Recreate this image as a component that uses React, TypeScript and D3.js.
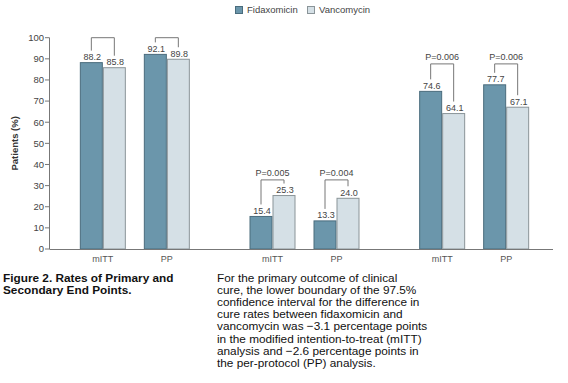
import React from "react";
import * as d3 from "d3";

const groups = ["Clinical cure", "Recurrence", "Sustained response"];
const analyses = ["mITT", "PP"];
const seriesNames = ["Fidaxomicin", "Vancomycin"];
const fidaxomicin = [88.2, 92.1, 15.4, 13.3, 74.6, 77.7];
const vancomycin = [85.8, 89.8, 25.3, 24.0, 64.1, 67.1];
const pLabels = ["", "", "P=0.005", "P=0.004", "P=0.006", "P=0.006"];
const bracketLevels = [100, 100, 32.7, 32.7, 87.6, 87.6];
const yTicks = [0, 10, 20, 30, 40, 50, 60, 70, 80, 90, 100];
const captionLines = ["Figure 2. Rates of Primary and", "Secondary End Points."];
const noteLines = [
  "For the primary outcome of clinical",
  "cure, the lower boundary of the 97.5%",
  "confidence interval for the difference in",
  "cure rates between fidaxomicin and",
  "vancomycin was \u22123.1 percentage points",
  "in the modified intention-to-treat (mITT)",
  "analysis and \u22122.6 percentage points in",
  "the per-protocol (PP) analysis.",
];

const W = 568;
const H = 383;
const FONT = "'Liberation Sans', Arial, sans-serif";
const fills = ["#6b96ab", "#d5e0e6"];
const strokes = ["#4a6c7d", "#8a9498"];

export default function App() {
  const y = d3.scaleLinear().domain([0, 100]).range([249, 37.7]);
  const xGroup = d3.scaleBand<number>().domain(d3.range(groups.length)).range([50, 559]).padding(0);
  const xAnalysis = d3.scaleBand<string>().domain(analyses).range([-64, 64]).padding(0);
  const xSeries = d3.scaleBand<string>().domain(seriesNames).range([-23, 23]).padding(0);
  const fmt = d3.format(".1f");

  const cats = groups.flatMap((g, gi) =>
    analyses.map((a, ai) => {
      const idx = gi * analyses.length + ai;
      const center = (xGroup(gi) as number) + xGroup.bandwidth() / 2 + (xAnalysis(a) as number) + xAnalysis.bandwidth() / 2;
      return { idx, a, center, vals: [fidaxomicin[idx], vancomycin[idx]] };
    })
  );

  return (
    <svg width={W} height={H} style={{ position: "absolute", left: 0, top: 0, background: "#fff" }}>
      {/* legend */}
      {seriesNames.map((s, i) => {
        const lx = i === 0 ? 235.5 : 307.5;
        return (
          <g key={s}>
            <rect x={lx} y={6.5} width={7} height={7} fill={fills[i]} stroke={strokes[i]} strokeWidth={1} />
            <text x={lx + 11.5} y={13} fontFamily={FONT} fontSize={9.5} fill="#444">{s}</text>
          </g>
        );
      })}

      {/* y axis */}
      <line x1={49.5} x2={49.5} y1={y(100)} y2={y(0)} stroke="#777" strokeWidth={1} />
      {yTicks.map((t) => (
        <g key={t}>
          <line x1={45} x2={49.5} y1={y(t)} y2={y(t)} stroke="#777" strokeWidth={1} />
          <text x={44} y={y(t) + 3.3} textAnchor="end" fontFamily={FONT} fontSize={9.5} fill="#444">{t}</text>
        </g>
      ))}
      <text
        transform={`translate(18,${(y(0) + y(100)) / 2}) rotate(-90)`}
        textAnchor="middle"
        fontFamily={FONT}
        fontSize={9.5}
        fontWeight="bold"
        fill="#333"
      >
        Patients (%)
      </text>

      {/* bars */}
      {cats.map((c) => (
        <g key={c.idx}>
          {c.vals.map((v, si) => {
            const x0 = c.center + (xSeries(seriesNames[si]) as number);
            return (
              <g key={si}>
                <rect x={x0 + 0.5} y={y(v)} width={xSeries.bandwidth() - 1} height={y(0) - y(v)} fill={fills[si]} stroke={strokes[si]} strokeWidth={1} />
                <text x={x0 + xSeries.bandwidth() / 2 + 1} y={y(v) - 2.5} textAnchor="middle" fontFamily={FONT} fontSize={9} fill="#444">
                  {fmt(v)}
                </text>
              </g>
            );
          })}
          {(() => {
            const xl = c.center + (xSeries(seriesNames[0]) as number) + xSeries.bandwidth() / 2;
            const xr = c.center + (xSeries(seriesNames[1]) as number) + xSeries.bandwidth() / 2;
            const top = y(bracketLevels[c.idx]);
            const yl = y(c.vals[0]) - 12;
            const yr = y(c.vals[1]) - 12;
            return (
              <g>
                <path d={`M${xl},${yl}V${top}H${xr}V${yr}`} fill="none" stroke="#777" strokeWidth={1} />
                {pLabels[c.idx] && (
                  <text x={(xl + xr) / 2} y={top - 4} textAnchor="middle" fontFamily={FONT} fontSize={9} fill="#444">
                    {pLabels[c.idx]}
                  </text>
                )}
              </g>
            );
          })()}
          <text x={c.center} y={262} textAnchor="middle" fontFamily={FONT} fontSize={9} fill="#555">{c.a}</text>
        </g>
      ))}

      {/* x axis */}
      <line x1={49.5} x2={553} y1={y(0) + 0.5} y2={y(0) + 0.5} stroke="#777" strokeWidth={1} />

      {/* caption */}
      {captionLines.map((l, i) => (
        <text key={i} x={3} y={282 + i * 11.5} fontFamily={FONT} fontSize={11.8} fontWeight="bold" fill="#111">{l}</text>
      ))}
      {noteLines.map((l, i) => (
        <text key={i} x={217} y={282 + i * 12.1} fontFamily={FONT} fontSize={11.8} fill="#111">{l}</text>
      ))}
    </svg>
  );
}
